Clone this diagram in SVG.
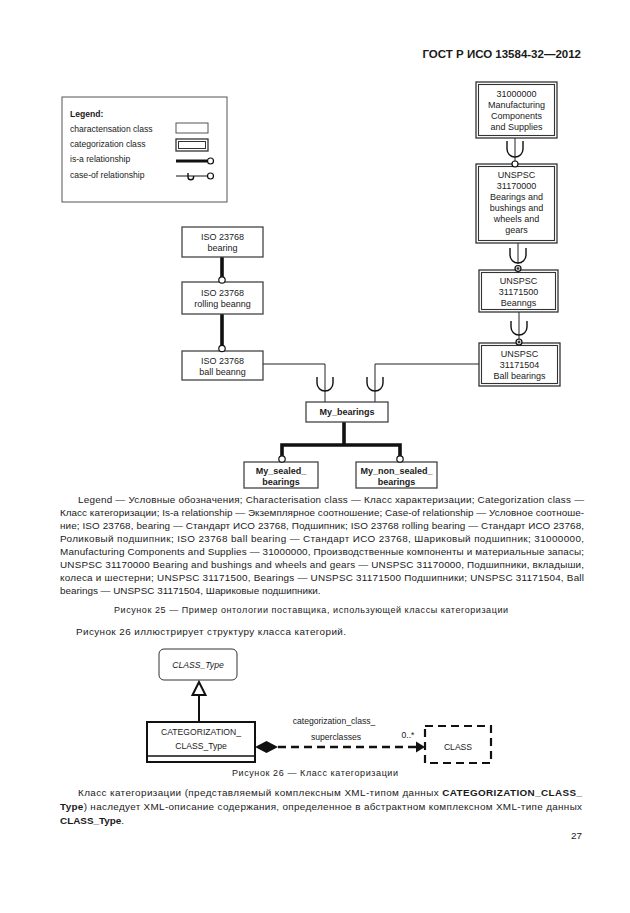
<svg xmlns="http://www.w3.org/2000/svg" width="630" height="913" viewBox="0 0 630 913">
<defs>
<style>
text{font-family:"Liberation Sans",Arial,sans-serif;fill:#1a1a1a}
.hdr{font-size:11.5px;font-weight:bold}
.nd{font-size:9px;text-anchor:middle}
.ndb{font-size:9px;text-anchor:middle;font-weight:bold}
.lg{font-size:8.6px}
.body{font-size:9.9px}
.cap{font-size:9px}
.f{font-size:8.6px;text-anchor:middle}
.box{fill:#fff;stroke:#444;stroke-width:1.3}
.dbl{fill:none;stroke:#333;stroke-width:1.1}
.thin{fill:none;stroke:#222;stroke-width:1}
.isa{fill:none;stroke:#111;stroke-width:3.6}
.cup{fill:none;stroke:#111;stroke-width:1.4}
.circ{fill:#fff;stroke:#111;stroke-width:1.2}
</style>
</defs>

<text class="hdr" x="581" y="58" text-anchor="end">ГОСТ Р ИСО 13584-32—2012</text>

<g id="legend">
<rect x="62" y="97" width="165" height="105" fill="#fff" stroke="#555" stroke-width="1"/>
<text class="lg" x="70" y="117" font-weight="bold">Legend:</text>
<text class="lg" x="70" y="132">charactensation class</text>
<text class="lg" x="70" y="147">categorization class</text>
<text class="lg" x="70" y="162">is-a relationship</text>
<text class="lg" x="70" y="178">case-of relationship</text>
<rect x="176" y="123" width="32" height="10" fill="#fff" stroke="#555" stroke-width="1"/>
<rect x="176" y="139" width="32" height="12" fill="#fff" stroke="#333" stroke-width="1.3"/>
<rect x="178.5" y="141.5" width="27" height="7" fill="none" stroke="#333" stroke-width="1"/>
<line x1="176" y1="161" x2="207" y2="161" stroke="#111" stroke-width="3"/>
<circle cx="210.5" cy="161" r="3" class="circ"/>
<line x1="176" y1="176" x2="207" y2="176" stroke="#111" stroke-width="1"/>
<path d="M188,173 v4 a2.8,2.8 0 0 0 5.6,0 v-1" class="cup" stroke-width="1.1"/>
<circle cx="210.5" cy="176" r="3" class="circ"/>
</g>

<g id="connectors">
<line x1="515" y1="138" x2="515" y2="161" class="thin"/>
<path d="M507,141 v8 a8,8 0 0 0 16,0 v-8" class="cup"/>
<line x1="518" y1="243" x2="518" y2="264" class="thin"/>
<path d="M510,248 v7 a8,8 0 0 0 16,0 v-7" class="cup"/>
<line x1="519" y1="312" x2="519" y2="339" class="thin"/>
<path d="M511,321 v6 a8,8 0 0 0 16,0 v-6" class="cup"/>
<line x1="222" y1="257" x2="222" y2="277" class="isa"/>
<line x1="222" y1="314" x2="222" y2="345" class="isa"/>
<polyline points="263,364 325,364 325,402" class="thin"/>
<path d="M317,377 v6 a8,8 0 0 0 16,0 v-6" class="cup"/>
<polyline points="479,364 375,364 375,402" class="thin"/>
<path d="M367,377 v6 a8,8 0 0 0 16,0 v-6" class="cup"/>
<line x1="344" y1="422" x2="344" y2="445" class="isa"/>
<polyline points="282,456 282,445 400,445 400,456" class="isa" stroke-linejoin="miter"/>
</g>

<g id="n31000000">
<rect x="476" y="82" width="81" height="56" fill="#fff" stroke="#333" stroke-width="1.3"/>
<rect x="478.5" y="84.5" width="76" height="51" class="dbl"/>
<text class="nd" x="516.5" y="97">31000000</text>
<text class="nd" x="516.5" y="108">Manufacturing</text>
<text class="nd" x="516.5" y="119">Components</text>
<text class="nd" x="516.5" y="130">and Supplies</text>
</g>

<g id="n31170000">
<rect x="476" y="164" width="81" height="79" fill="#fff" stroke="#333" stroke-width="1.3"/>
<rect x="478.5" y="166.5" width="76" height="74" class="dbl"/>
<text class="nd" x="516.5" y="178">UNSPSC</text>
<text class="nd" x="516.5" y="189">31170000</text>
<text class="nd" x="516.5" y="200">Bearings and</text>
<text class="nd" x="516.5" y="211">bushings and</text>
<text class="nd" x="516.5" y="222">wheels and</text>
<text class="nd" x="516.5" y="233">gears</text>
</g>
<circle cx="515" cy="164" r="3" class="circ"/>

<g id="n31171500">
<rect x="479" y="270" width="79" height="42" fill="#fff" stroke="#333" stroke-width="1.3"/>
<rect x="481.5" y="272.5" width="74" height="37" class="dbl"/>
<text class="nd" x="518.5" y="284">UNSPSC</text>
<text class="nd" x="518.5" y="295">31171500</text>
<text class="nd" x="518.5" y="306">Beanngs</text>
</g>
<circle cx="518" cy="268.5" r="3" fill="#ccc" stroke="#111" stroke-width="1.2"/>
<circle cx="518" cy="268.5" r="1.2" fill="#333"/>

<g id="n31171504">
<rect x="479" y="343" width="81" height="43" fill="#fff" stroke="#333" stroke-width="1.3"/>
<rect x="481.5" y="345.5" width="76" height="38" class="dbl"/>
<text class="nd" x="519.5" y="357">UNSPSC</text>
<text class="nd" x="519.5" y="368">31171504</text>
<text class="nd" x="519.5" y="379">Ball bearings</text>
</g>
<circle cx="519" cy="342" r="3" fill="#ccc" stroke="#111" stroke-width="1.2"/>
<circle cx="519" cy="342" r="1.2" fill="#333"/>

<g id="iso_bearing">
<rect x="182" y="227" width="81" height="30" class="box"/>
<text class="nd" x="222.5" y="240">ISO 23768</text>
<text class="nd" x="222.5" y="251">bearing</text>
</g>
<g id="iso_rolling">
<rect x="182" y="282" width="81" height="32" class="box"/>
<text class="nd" x="222.5" y="296">ISO 23768</text>
<text class="nd" x="222.5" y="307">rolling beanng</text>
</g>
<circle cx="222" cy="280" r="3.2" class="circ"/>
<g id="iso_ball">
<rect x="182" y="351" width="81" height="29" class="box"/>
<text class="nd" x="222.5" y="364">ISO 23768</text>
<text class="nd" x="222.5" y="375">ball beanng</text>
</g>
<circle cx="222" cy="348.5" r="3.2" class="circ"/>

<g id="my_bearings">
<rect x="306" y="402" width="82" height="20" class="box"/>
<text class="ndb" x="347" y="415">My_bearings</text>
</g>
<g id="my_sealed">
<rect x="244" y="462" width="74" height="26" class="box"/>
<text class="ndb" x="281" y="474">My_sealed_</text>
<text class="ndb" x="281" y="485">bearings</text>
</g>
<circle cx="282" cy="459" r="3.2" class="circ"/>
<g id="my_non_sealed">
<rect x="356" y="462" width="81" height="26" class="box"/>
<text class="ndb" x="396.5" y="474">My_non_sealed_</text>
<text class="ndb" x="396.5" y="485">bearings</text>
</g>
<circle cx="400" cy="459" r="3.2" class="circ"/>

<g id="legend-text">
<text class="body" x="78" y="503" textLength="506" lengthAdjust="spacing">Legend — Условные обозначения; Characterisation class — Класс характеризации; Categorization class —</text>
<text class="body" x="60" y="516" textLength="524" lengthAdjust="spacing">Класс категоризации; Is-a relationship — Экземплярное соотношение; Case-of relationship — Условное соотноше-</text>
<text class="body" x="60" y="529" textLength="524" lengthAdjust="spacing">ние; ISO 23768, bearing — Стандарт ИСО 23768, Подшипник; ISO 23768 rolling bearing — Стандарт ИСО 23768,</text>
<text class="body" x="60" y="542" textLength="524" lengthAdjust="spacing">Роликовый подшипник;  ISO 23768 ball bearing — Стандарт ИСО 23768,  Шариковый подшипник; 31000000,</text>
<text class="body" x="60" y="555" textLength="524" lengthAdjust="spacing">Manufacturing Components and Supplies — 31000000, Производственные компоненты и материальные запасы;</text>
<text class="body" x="60" y="568" textLength="524" lengthAdjust="spacing">UNSPSC 31170000 Bearing and bushings and wheels and gears — UNSPSC 31170000, Подшипники, вкладыши,</text>
<text class="body" x="60" y="581" textLength="524" lengthAdjust="spacing">колеса и шестерни; UNSPSC 31171500, Bearings — UNSPSC 31171500 Подшипники; UNSPSC 31171504, Ball</text>
<text class="body" x="60" y="594">bearings — UNSPSC 31171504, Шариковые подшипники.</text>
</g>

<text class="cap" x="114" y="613" textLength="394" lengthAdjust="spacing">Рисунок 25 — Пример онтологии поставщика, использующей классы категоризации</text>
<text class="body" x="76" y="635" textLength="270" lengthAdjust="spacing">Рисунок 26 иллюстрирует структуру класса категорий.</text>

<g id="fig26-connectors">
<polygon points="199,682 192.5,695 205.5,695" fill="#fff" stroke="#111" stroke-width="2"/>
<line x1="199" y1="695" x2="199" y2="722" stroke="#111" stroke-width="2"/>
<polygon points="255,747 266.5,741 278,747 266.5,753" fill="#111"/>
<line x1="278" y1="747" x2="418" y2="747" stroke="#111" stroke-width="2.4" stroke-dasharray="8,5"/>
<polygon points="416,741.5 425,747 416,752.5" fill="#111"/>
<text class="f" x="334" y="724">categorization_class_</text>
<text class="f" x="336" y="740">superclasses</text>
<text class="f" x="408" y="738">0..*</text>
</g>
<g id="class_type">
<rect x="159" y="649" width="78" height="31" rx="5" fill="#fff" stroke="#333" stroke-width="1"/>
<text class="f" x="198" y="668" font-style="italic">CLASS_Type</text>
</g>
<g id="categorization_class_type">
<rect x="147" y="722" width="108" height="40" fill="#fff" stroke="#111" stroke-width="2"/>
<line x1="147" y1="756" x2="255" y2="756" stroke="#111" stroke-width="1.5"/>
<text class="f" x="201" y="735">CATEGORIZATION_</text>
<text class="f" x="201" y="749">CLASS_Type</text>
</g>
<g id="class">
<rect x="425" y="726" width="66" height="37" fill="none" stroke="#111" stroke-width="2.2" stroke-dasharray="8,5"/>
<text class="f" x="458" y="750">CLASS</text>
</g>

<text class="cap" x="232" y="776" textLength="166" lengthAdjust="spacing">Рисунок 26 — Класс категоризации</text>

<g id="body-text">
<text class="body" x="78" y="796" textLength="504" lengthAdjust="spacing">Класс категоризации (представляемый комплексным XML-типом данных <tspan font-weight="bold">CATEGORIZATION_CLASS_</tspan></text>
<text class="body" x="60" y="810" textLength="522" lengthAdjust="spacing"><tspan font-weight="bold">Type</tspan>) наследует XML-описание содержания, определенное в абстрактном комплексном XML-типе данных</text>
<text class="body" x="60" y="824"><tspan font-weight="bold">CLASS_Type</tspan>.</text>
<text class="body" x="582" y="839" text-anchor="end">27</text>
</g>
</svg>
